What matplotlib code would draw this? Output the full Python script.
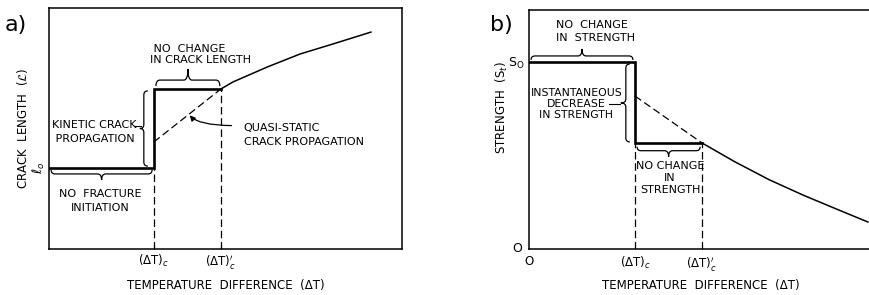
import numpy as np
import matplotlib
matplotlib.use("Agg")
from matplotlib import pyplot as plt
from matplotlib.path import Path
from matplotlib.patches import PathPatch
from matplotlib.transforms import IdentityTransform

# panel a: crack length vs temperature difference (arbitrary units 0..10)
a_step_x = [0, 2.97, 2.97, 4.87]
a_step_y = [3.36, 3.36, 6.64, 6.64]
a_curve_x = [4.87, 5.21, 6.18, 7.11, 8.05, 9.12]
a_curve_y = [6.64, 6.93, 7.55, 8.09, 8.51, 9.0]
a_dash_x = [2.97, 4.87]
a_dash_y = [4.44, 6.64]
a_ticks = [2.97, 4.87]
a_ticklabels = ['(ΔT)$_c$', "(ΔT)$^{\\prime}_c$"]

# panel b: strength vs temperature difference
b_step_x = [0, 3.09, 3.09, 5.04]
b_step_y = [7.82, 7.82, 4.44, 4.44]
b_curve_x = [5.04, 6.0, 7.0, 8.0, 9.0, 9.88]
b_curve_y = [4.44, 3.65, 2.9, 2.25, 1.65, 1.13]
b_dash_x = [3.09, 5.04]
b_dash_y = [6.40, 4.44]
b_ticks = [0, 3.09, 5.04]
b_ticklabels = ['O', '(ΔT)$_c$', "(ΔT)$^{\\prime}_c$"]

FS = 8
W, H = 870, 295
fig = plt.figure(figsize=(8.7, 2.95), dpi=100)
fig.patch.set_facecolor('white')

def px_axes(l, t, r, b):
    return fig.add_axes([l / W, 1 - b / H, (r - l) / W, (b - t) / H])

def brace(ax, p0, p1, d1, d2, r=4, lw=0.9):
    # curly brace between two data points, offsets in pixels along the normal
    P0 = ax.transData.transform(p0)
    P1 = ax.transData.transform(p1)
    u = (P1 - P0) / np.hypot(*(P1 - P0))
    n = np.array([-u[1], u[0]])
    L = np.hypot(*(P1 - P0))
    m = L / 2
    st = [(0, 0), (0, d1), (r, d1), (m - r, d1), (m, d1), (m, d2),
          (m, d1), (m + r, d1), (L - r, d1), (L, d1), (L, 0)]
    codes = [Path.MOVETO, Path.CURVE3, Path.CURVE3, Path.LINETO, Path.CURVE3, Path.CURVE3,
             Path.CURVE3, Path.CURVE3, Path.LINETO, Path.CURVE3, Path.CURVE3]
    pts = [P0 + s * u + t * n for s, t in st]
    ax.add_patch(PathPatch(Path(pts, codes), fill=False, lw=lw, color='black',
                           transform=IdentityTransform(), clip_on=False))

def setup(ax):
    ax.set_xlim(0, 10)
    ax.set_ylim(0, 10)
    for s in ax.spines.values():
        s.set_linewidth(1.1)
    ax.tick_params(axis='x', direction='in', length=3, width=0.8, labelsize=FS + 0.5, pad=3)
    ax.tick_params(axis='y', length=0)
    ax.set_yticks([])

# ---------------- panel a ----------------
ax1 = px_axes(49, 8, 402, 249)
setup(ax1)
ax1.plot(a_step_x, a_step_y, color='black', lw=1.9, solid_joinstyle='miter')
ax1.plot(a_curve_x, a_curve_y, color='black', lw=1.1)
ax1.plot(a_dash_x, a_dash_y, color='black', lw=0.9, dashes=(6, 3))
ax1.plot([a_ticks[0]] * 2, [0, a_step_y[1]], color='black', lw=0.9, dashes=(6, 3))
ax1.plot([a_ticks[1]] * 2, [0, a_step_y[-1]], color='black', lw=0.9, dashes=(6, 3))
ax1.set_xticks(a_ticks)
ax1.set_xticklabels(a_ticklabels)
ax1.set_xlabel('TEMPERATURE  DIFFERENCE  (ΔT)', fontsize=FS + 0.5, labelpad=6)
ax1.set_ylabel('CRACK  LENGTH  ($\\mathcal{L}$)', fontsize=FS + 0.5, labelpad=14)
ax1.text(-0.05, a_step_y[0], '$\\ell_o$', rotation=90, ha='right', va='center', fontsize=FS + 1)

brace(ax1, (0.06, 3.28), (2.92, 3.28), -4, -10)
ax1.text(1.44, 1.99, 'NO  FRACTURE\nINITIATION', ha='center', va='center', fontsize=FS, linespacing=1.5)

brace(ax1, (2.80, 6.56), (2.80, 3.44), -4, -8)
ax1.text(0.08, 4.85, 'KINETIC CRACK\n PROPAGATION', ha='left', va='center', fontsize=FS, linespacing=1.45)
ax1.plot([2.40, 2.62], [5.09, 5.09], color='black', lw=0.8)

brace(ax1, (3.03, 6.76), (4.84, 6.76), 6, 17)
ax1.text(2.86, 8.07, ' NO  CHANGE\nIN CRACK LENGTH', ha='left', va='center', fontsize=FS, linespacing=1.15)

ax1.annotate('', xy=(3.94, 5.64), xytext=(5.25, 5.12),
             arrowprops=dict(arrowstyle='-|>', color='black', lw=0.9, mutation_scale=8,
                             connectionstyle='angle3,angleA=180,angleB=-60'))
ax1.text(5.52, 4.73, 'QUASI-STATIC\nCRACK PROPAGATION', ha='left', va='center', fontsize=FS, linespacing=1.45)

fig.text(5 / W, 1 - 25 / H, 'a)', fontsize=16, ha='left', va='center')

# ---------------- panel b ----------------
ax2 = px_axes(529, 10, 872, 249)
setup(ax2)
ax2.plot(b_step_x, b_step_y, color='black', lw=1.9, solid_joinstyle='miter')
ax2.plot(b_curve_x, b_curve_y, color='black', lw=1.1)
ax2.plot(b_dash_x, b_dash_y, color='black', lw=0.9, dashes=(6, 3))
ax2.plot([b_ticks[1]] * 2, [0, b_step_y[-1]], color='black', lw=0.9, dashes=(6, 3))
ax2.plot([b_ticks[2]] * 2, [0, b_step_y[-1]], color='black', lw=0.9, dashes=(6, 3))
ax2.set_xticks(b_ticks)
ax2.set_xticklabels(b_ticklabels)
ax2.tick_params(axis='x', length=0, pad=4)
ax2.set_xlabel('TEMPERATURE  DIFFERENCE  (ΔT)', fontsize=FS + 0.5, labelpad=5)
ax2.set_ylabel('STRENGTH  (S$_t$)', fontsize=FS + 0.5)
ax2.yaxis.set_label_coords(-0.055, 0.59)
ax2.text(-0.12, b_step_y[0] - 0.05, 'S$_\\mathregular{O}$', ha='right', va='center', fontsize=FS + 1)
ax2.text(-0.2, 0, 'O', ha='right', va='center', fontsize=FS + 1)

brace(ax2, (0.06, 7.91), (3.03, 7.91), 4, 11)
ax2.text(0.79, 9.10, 'NO  CHANGE\nIN  STRENGTH', ha='left', va='center', fontsize=FS, linespacing=1.3)

brace(ax2, (2.94, 7.74), (2.94, 4.48), -4, -9)
ax2.text(1.38, 6.07, 'INSTANTANEOUS\nDECREASE\nIN STRENGTH', ha='center', va='center', fontsize=FS - 0.2, linespacing=1.1)
ax2.plot([2.32, 2.66], [6.07, 6.07], color='black', lw=0.8)

brace(ax2, (3.15, 4.28), (4.99, 4.28), -4, -10)
ax2.text(4.11, 2.97, 'NO CHANGE\nIN\nSTRENGTH', ha='center', va='center', fontsize=FS, linespacing=1.2)

fig.text(490 / W, 1 - 25 / H, 'b)', fontsize=16, ha='left', va='center')

fig.savefig('out.png', dpi=100, facecolor='white')
